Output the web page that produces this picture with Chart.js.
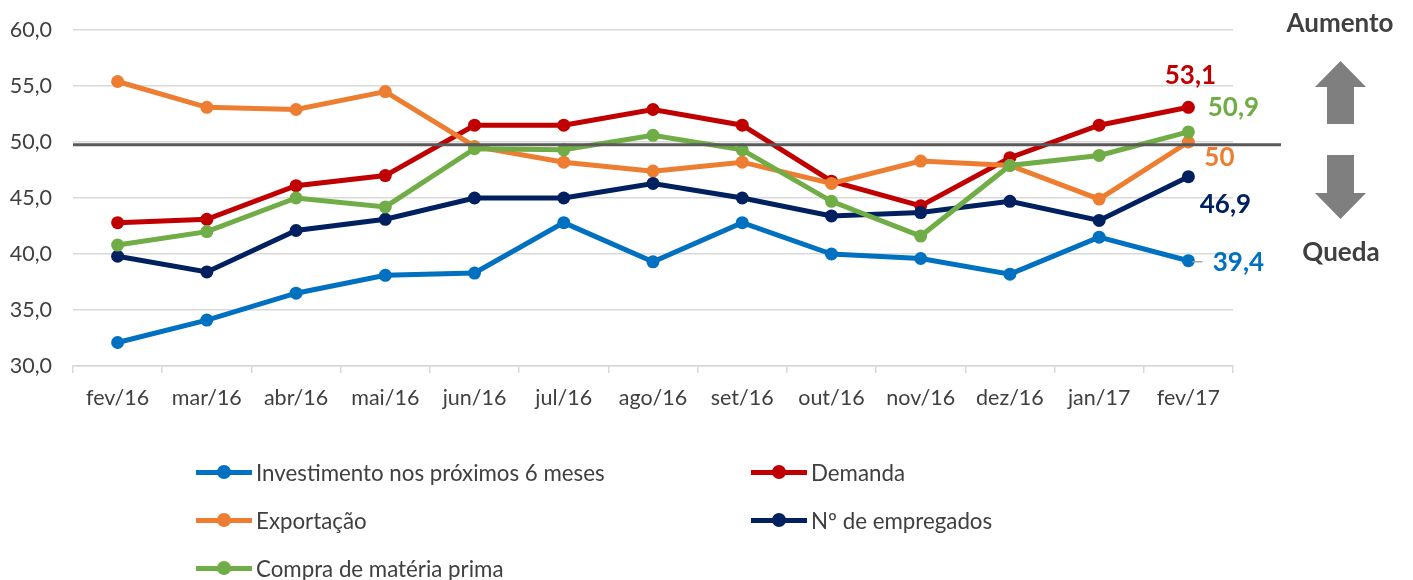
<!DOCTYPE html>
<html><head><meta charset="utf-8">
<script src="https://cdn.jsdelivr.net/npm/chart.js@4.4.1/dist/chart.umd.min.js"></script>
<style>
html,body{margin:0;padding:0;background:#fff;}
#wrap{position:relative;width:1413px;height:580px;font-family:Lato,sans-serif;overflow:hidden;}
#c{position:absolute;left:0;top:0;}
.lg{position:absolute;display:flex;align-items:center;height:30px;font-size:22.3px;color:#404040;white-space:nowrap;font-family:Lato,sans-serif;}
.lg .mk{position:relative;width:56px;height:14px;margin-right:4px;flex:none;}
.lg .mk .ln{position:absolute;left:0;top:4.5px;width:56px;height:5px;}
.lg .mk .dt{position:absolute;left:21px;top:0;width:14px;height:14px;border-radius:50%;}
</style></head>
<body><div id="wrap"><canvas id="c" width="1413" height="580"></canvas><div id="legend"></div></div>
<script>
// ---- data ----
const categories = ["fev/16","mar/16","abr/16","mai/16","jun/16","jul/16","ago/16","set/16","out/16","nov/16","dez/16","jan/17","fev/17"];
const seriesNames = ["Investimento nos próximos 6 meses","Demanda","Exportação","Nº de empregados","Compra de matéria prima"];
const investimento = [32.1, 34.1, 36.5, 38.1, 38.3, 42.8, 39.3, 42.8, 40.0, 39.6, 38.2, 41.5, 39.4];
const demanda      = [42.8, 43.1, 46.1, 47.0, 51.5, 51.5, 52.9, 51.5, 46.5, 44.3, 48.6, 51.5, 53.1];
const exportacao   = [55.4, 53.1, 52.9, 54.5, 49.6, 48.2, 47.4, 48.2, 46.3, 48.3, 47.9, 44.9, 50];
const empregados   = [39.8, 38.4, 42.1, 43.1, 45.0, 45.0, 46.3, 45.0, 43.4, 43.7, 44.7, 43.0, 46.9];
const materiaPrima = [40.8, 42.0, 45.0, 44.2, 49.4, 49.3, 50.6, 49.3, 44.7, 41.6, 47.9, 48.8, 50.9];
const yTicks = [30, 35, 40, 45, 50, 55, 60];
const referenceValue = 49.75;
const sideLabels = ["Aumento", "Queda"];

// ---- styles ----
const colors = ["#0070C0", "#C00000", "#ED7D31", "#002060", "#70AD47"];
const allSeries = [investimento, demanda, exportacao, empregados, materiaPrima];
// end label offsets relative to last point (px)
const endLabelOffsets = [[50, 2], [2, -32], [31, 16], [37, 28], [45, -24]];

const fmt = v => String(v).replace('.', ',');

const datasets = allSeries.map((d, i) => ({
  label: seriesNames[i],
  data: d,
  borderColor: colors[i],
  backgroundColor: colors[i],
  pointBackgroundColor: colors[i],
  pointBorderColor: colors[i],
  pointBorderWidth: 0,
  pointRadius: 6.5,
  borderWidth: 5,
  tension: 0,
  fill: false,
  order: allSeries.length - i
}));

const overlay = {
  id: 'overlay',
  afterDatasetsDraw(chart) {
    const ctx = chart.ctx, y = chart.scales.y;
    const ry = y.getPixelForValue(referenceValue);
    ctx.save();
    ctx.strokeStyle = '#595959';
    ctx.lineWidth = 3;
    ctx.beginPath();
    ctx.moveTo(chart.chartArea.left, ry);
    ctx.lineTo(1281, ry);
    ctx.stroke();
    ctx.restore();
  },
  afterDraw(chart) {
    const ctx = chart.ctx, y = chart.scales.y, x = chart.scales.x;
    const last = categories.length - 1;
    const px = x.getPixelForValue(last);
    ctx.save();
    const by = y.getPixelForValue(investimento[last]);
    ctx.strokeStyle = '#A6A6A6'; ctx.lineWidth = 1.5;
    ctx.beginPath(); ctx.moveTo(px + 4, by + 1); ctx.lineTo(px + 14, by + 1); ctx.stroke();
    ctx.font = 'bold 26px Lato';
    ctx.textAlign = 'center'; ctx.textBaseline = 'middle';
    allSeries.forEach((d, i) => {
      const v = d[last];
      const py = y.getPixelForValue(v);
      ctx.fillStyle = colors[i];
      ctx.fillText(fmt(v), px + endLabelOffsets[i][0], py + endLabelOffsets[i][1]);
    });
    ctx.fillStyle = '#404040';
    ctx.font = 'bold 26px Lato';
    ctx.fillText(sideLabels[0], 1340, 24);
    ctx.fillText(sideLabels[1], 1341, 253);
    ctx.fillStyle = '#7F7F7F';
    ctx.beginPath();
    ctx.moveTo(1340.5, 61); ctx.lineTo(1366, 87); ctx.lineTo(1354, 87); ctx.lineTo(1354, 124);
    ctx.lineTo(1327, 124); ctx.lineTo(1327, 87); ctx.lineTo(1315, 87); ctx.closePath(); ctx.fill();
    ctx.beginPath();
    ctx.moveTo(1327, 155); ctx.lineTo(1354, 155); ctx.lineTo(1354, 193); ctx.lineTo(1366, 193);
    ctx.lineTo(1340.5, 219); ctx.lineTo(1315, 193); ctx.lineTo(1327, 193); ctx.closePath(); ctx.fill();
    ctx.restore();
  }
};

const chart = new Chart(document.getElementById('c'), {
  type: 'line',
  data: { labels: categories, datasets },
  options: {
    responsive: false,
    animation: false,
    devicePixelRatio: 1,
    layout: { padding: { top: 30, right: 180, left: 0, bottom: 0 } },
    plugins: { legend: { display: false }, tooltip: { enabled: false } },
    scales: {
      x: {
        offset: true,
        grid: { offset: true, drawOnChartArea: false, drawTicks: true, tickLength: 7, color: '#D9D9D9', lineWidth: 1.5 },
        border: { display: true, color: '#D9D9D9', width: 1.5 },
        ticks: { font: { family: 'Lato', size: 21.5 }, color: '#404040', padding: 12, maxRotation: 0, autoSkip: false },
        afterFit(s) { s.height = 214; }
      },
      y: {
        min: 30, max: 60,
        afterBuildTicks(s) { s.ticks = yTicks.map(v => ({ value: v })); },
        grid: { color: '#D9D9D9', lineWidth: 1.5, drawTicks: false },
        border: { display: false },
        ticks: { font: { family: 'Lato', size: 21.5, lineHeight: 0.8 }, color: '#404040', padding: 21,
          callback: v => v.toFixed(1).replace('.', ',') },
        afterFit(s) { s.width = 73; }
      }
    }
  },
  plugins: [overlay]
});

const legendPos = [[196, 472], [751, 472], [196, 520], [751, 520], [196, 568]];
const lg = document.getElementById('legend');
chart.data.datasets.forEach((ds, i) => {
  const el = document.createElement('div');
  el.className = 'lg';
  el.style.left = legendPos[i][0] + 'px';
  el.style.top = (legendPos[i][1] - 15) + 'px';
  el.innerHTML = '<span class="mk"><span class="ln" style="background:' + ds.borderColor + '"></span><span class="dt" style="background:' + ds.borderColor + '"></span></span><span></span>';
  el.lastChild.textContent = ds.label;
  lg.appendChild(el);
});
</script>
</body></html>
